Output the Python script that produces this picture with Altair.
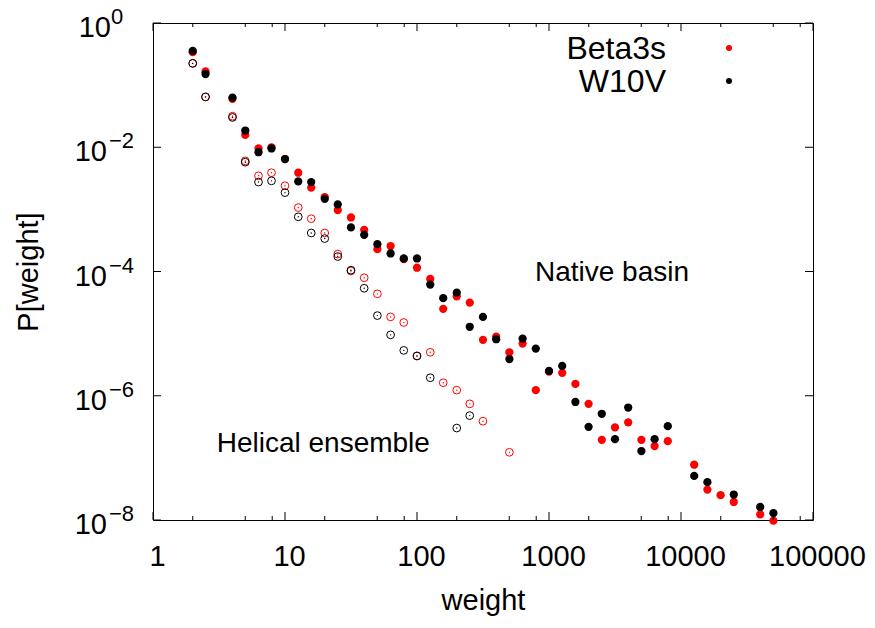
import altair as alt
import pandas as pd

FONT = "Liberation Sans"
W, H = 660, 497

series_names = ["Beta3s", "W10V"]
series_colors = ["#ff0000", "#000000"]

# Native basin (filled points)
beta_native_w = [2, 2.5, 4, 5, 6.3, 7.9, 10, 12.6, 15.8, 20, 25.1, 31.6, 39.8, 50.1, 63.1, 79.4,
                 100, 126, 158, 200, 251, 316, 398, 501, 631, 794, 1000, 1259, 1585, 1995, 2512,
                 3162, 3981, 5012, 6310, 7943, 12589, 15849, 19953, 25119, 39811, 50119]
beta_native_p = [0.339, 0.166, 0.0603, 0.0158, 0.00955, 0.0100, 0.00646, 0.00389, 0.00224, 0.00158,
                 9.77e-4, 7.41e-4, 4.68e-4, 2.29e-4, 2.57e-4, 1.58e-4, 1.15e-4, 7.59e-5, 2.51e-5,
                 3.98e-5, 3.16e-5, 7.94e-6, 8.91e-6, 5.01e-6, 6.92e-6, 1.23e-6, 2.45e-6, 2.34e-6,
                 1.55e-6, 7.41e-7, 1.95e-7, 3.09e-7, 3.72e-7, 1.95e-7, 1.55e-7, 1.86e-7, 7.76e-8,
                 3.09e-8, 2.51e-8, 1.95e-8, 1.23e-8, 9.77e-9]

w10v_native_w = [2, 2.5, 4, 5, 6.3, 7.9, 10, 12.6, 15.8, 20, 25.1, 31.6, 39.8, 50.1, 63.1, 79.4,
                 100, 126, 158, 200, 251, 316, 398, 501, 631, 794, 1000, 1259, 1585, 1995, 2512,
                 3162, 3981, 5012, 6310, 7943, 12589, 15849, 25119, 39811, 50119]
w10v_native_p = [0.355, 0.151, 0.0631, 0.0186, 0.00832, 0.00955, 0.00646, 0.00282, 0.00275, 0.00148,
                 0.00120, 5.13e-4, 3.89e-4, 2.75e-4, 1.95e-4, 1.62e-4, 1.62e-4, 6.17e-5, 3.72e-5,
                 4.57e-5, 1.29e-5, 1.86e-5, 8.13e-6, 3.89e-6, 8.32e-6, 5.75e-6, 2.51e-6, 3.02e-6,
                 7.94e-7, 3.16e-7, 5.13e-7, 2.00e-7, 6.46e-7, 1.29e-7, 2.00e-7, 3.24e-7, 5.13e-8,
                 4.07e-8, 2.57e-8, 1.62e-8, 1.29e-8]

# Helical ensemble (open points)
beta_helix_w = [2, 2.5, 4, 5, 6.3, 7.9, 10, 12.6, 15.8, 20, 25.1, 31.6, 39.8, 50.1, 63.1, 79.4,
                100, 126, 158, 200, 251, 316, 501]
beta_helix_p = [0.224, 0.0646, 0.0316, 0.00603, 0.00347, 0.00389, 0.00240, 0.00107, 7.08e-4,
                4.17e-4, 1.91e-4, 1.02e-4, 7.94e-5, 4.37e-5, 1.86e-5, 1.51e-5, 4.37e-6, 5.01e-6,
                1.62e-6, 1.23e-6, 7.41e-7, 3.89e-7, 1.23e-7]

w10v_helix_w = [2, 2.5, 4, 5, 6.3, 7.9, 10, 12.6, 15.8, 20, 25.1, 31.6, 39.8, 50.1, 63.1, 79.4,
                100, 126, 200, 251]
w10v_helix_p = [0.224, 0.0646, 0.0302, 0.00575, 0.00275, 0.00288, 0.00186, 7.59e-4, 4.17e-4,
                3.39e-4, 1.74e-4, 1.05e-4, 5.37e-5, 1.95e-5, 9.55e-6, 5.37e-6, 4.37e-6, 1.95e-6,
                3.02e-7, 4.79e-7]

x_major = [1, 10, 100, 1000, 10000, 100000]
x_minor = [2, 5, 8, 20, 50, 80, 200, 500, 800, 2000, 5000, 8000, 20000, 50000, 80000]
y_major = [1, 1e-2, 1e-4, 1e-6, 1e-8]
y_exps = ["0", "\u22122", "\u22124", "\u22126", "\u22128"]

annotations = ["Native basin", "Helical ensemble"]
annot_w = [3000, 19.5]
annot_p = [7.0e-5, 1.25e-7]

xs = alt.Scale(type="log", domain=[1, 100000], nice=False)
ys = alt.Scale(type="log", domain=[1e-8, 1], nice=False)

xaxis = alt.Axis(values=x_major, format="d", labelFlush=False, labelFont=FONT, labelFontSize=29,
                 labelColor="black", labelBaseline="alphabetic", labelPadding=45, labelOffset=4,
                 ticks=False, domain=False, grid=False, title="weight", titleFont=FONT,
                 titleFontSize=29, titleFontWeight="normal", titleColor="black",
                 titleBaseline="alphabetic", titleY=89)
yaxis = alt.Axis(values=y_major, labels=False, ticks=False, domain=False, grid=False,
                 title="P[weight]", titleFont=FONT, titleFontSize=29, titleFontWeight="normal",
                 titleColor="black", titleBaseline="alphabetic", titleX=-116, titleY=248.5,
                 titleAngle=-90, titleAlign="center")

X = lambda: alt.X("w:Q", scale=xs, axis=xaxis)
Y = lambda: alt.Y("p:Q", scale=ys, axis=yaxis)


def df(w, p):
    return pd.DataFrame({"w": w, "p": p})


layers = []
# filled native points
for (w, p), col in zip([(beta_native_w, beta_native_p), (w10v_native_w, w10v_native_p)], series_colors):
    layers.append(alt.Chart(df(w, p)).mark_circle(size=68, opacity=1, color=col).encode(x=X(), y=Y()))
# open helical points with centre dot
for (w, p), col in zip([(beta_helix_w, beta_helix_p), (w10v_helix_w, w10v_helix_p)], series_colors):
    d = df(w, p)
    layers.append(alt.Chart(d).mark_point(shape="circle", filled=False, size=60, strokeWidth=1,
                                          opacity=1, color=col).encode(x=X(), y=Y()))
    layers.append(alt.Chart(d).mark_circle(size=2, opacity=1, color=col).encode(x=X(), y=Y()))

# inward ticks
xmaj = pd.DataFrame({"w": x_major})
xmin = pd.DataFrame({"w": x_minor})
ymaj = pd.DataFrame({"p": y_major})
for data, L in [(xmaj, 8), (xmin, 4)]:
    layers.append(alt.Chart(data).mark_rule(color="black", strokeWidth=1).encode(
        x=X(), y=alt.value(H), y2=alt.value(H - L)))
    layers.append(alt.Chart(data).mark_rule(color="black", strokeWidth=1).encode(
        x=X(), y=alt.value(0), y2=alt.value(L)))
layers.append(alt.Chart(ymaj).mark_rule(color="black", strokeWidth=1).encode(
    y=Y(), x=alt.value(0), x2=alt.value(8)))
layers.append(alt.Chart(ymaj).mark_rule(color="black", strokeWidth=1).encode(
    y=Y(), x=alt.value(W), x2=alt.value(W - 8)))

# y tick labels 10^n
ylab = pd.DataFrame({"p": y_major, "exp": y_exps})
zero = alt.datum.exp == "0"
layers.append(alt.Chart(ylab).transform_filter(zero).mark_text(
    text="10", align="right", baseline="alphabetic", font=FONT, fontSize=29, dy=14, color="black"
).encode(x=alt.value(-42), y=Y()))
layers.append(alt.Chart(ylab).transform_filter(zero).mark_text(
    align="left", baseline="alphabetic", font=FONT, fontSize=22, dy=1, color="black"
).encode(x=alt.value(-42), y=Y(), text="exp:N"))
layers.append(alt.Chart(ylab).transform_filter(~zero).mark_text(
    text="10", align="right", baseline="alphabetic", font=FONT, fontSize=29, dy=14, color="black"
).encode(x=alt.value(-46), y=Y()))
layers.append(alt.Chart(ylab).transform_filter(~zero).mark_text(
    align="left", baseline="alphabetic", font=FONT, fontSize=22, dy=1, color="black"
).encode(x=alt.value(-44), y=Y(), text="exp:N"))

# annotations
ann = pd.DataFrame({"w": annot_w, "p": annot_p, "t": annotations})
layers.append(alt.Chart(ann).mark_text(align="center", baseline="alphabetic", font=FONT,
                                       fontSize=28, color="black").encode(x=X(), y=Y(), text="t:N"))

# legend
leg_y = [36, 69]
dot_y = [25, 58]
for name, col, ty, dy_ in zip(series_names, series_colors, leg_y, dot_y):
    d = pd.DataFrame({"name": [name]})
    layers.append(alt.Chart(d).mark_text(align="right", baseline="alphabetic", font=FONT,
                                         fontSize=32, color="black").encode(
        text="name:N", x=alt.value(513), y=alt.value(ty)))
    layers.append(alt.Chart(d).mark_circle(size=36, opacity=1, color=col).encode(
        x=alt.value(576), y=alt.value(dy_)))

chart = alt.layer(*layers).properties(
    width=W, height=H,
    autosize=alt.AutoSizeParams(type="none"),
    padding={"left": 153, "top": 23, "right": 62, "bottom": 108},
    background="white",
).configure_view(stroke="black", strokeWidth=1).configure_text(font=FONT)

chart.save("out.html", embed_options={"renderer": "svg", "actions": False})
